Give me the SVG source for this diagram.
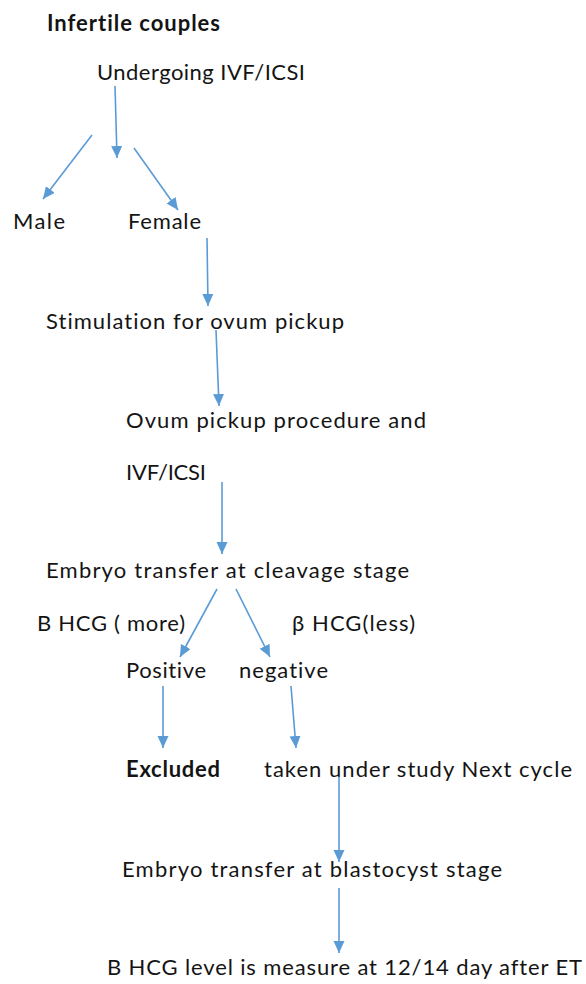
<svg xmlns="http://www.w3.org/2000/svg" width="586" height="984" viewBox="0 0 586 984">
<style>
text{font-family:Lato,"Open Sans","Liberation Sans",sans-serif;font-size:22px;fill:#141414;font-variant-ligatures:none}
.b{font-weight:bold}
.c{stroke:#5b9bd5;stroke-width:1.6;fill:none;marker-end:url(#ah)}
</style>
<defs>
<marker id="ah" markerUnits="userSpaceOnUse" markerWidth="14" markerHeight="12" refX="12" refY="5.5" orient="auto">
<path d="M0,0 L12,5.5 L0,11 z" fill="#5b9bd5"/>
</marker>
</defs>
<rect width="586" height="984" fill="#fff"/>
<g id="connectors">
<line class="c" x1="115" y1="86" x2="117" y2="158"/>
<line class="c" x1="92" y1="135" x2="43" y2="199"/>
<line class="c" x1="134" y1="148" x2="178" y2="210"/>
<line class="c" x1="207" y1="238" x2="208" y2="306"/>
<line class="c" x1="216" y1="330" x2="219" y2="406"/>
<line class="c" x1="222" y1="482" x2="222" y2="554"/>
<line class="c" x1="217" y1="589" x2="180" y2="657"/>
<line class="c" x1="236" y1="589" x2="270" y2="657"/>
<line class="c" x1="163" y1="686" x2="163" y2="748"/>
<line class="c" x1="291" y1="686" x2="296" y2="748"/>
<line class="c" x1="339" y1="777" x2="339" y2="862"/>
<line class="c" x1="339" y1="888" x2="339" y2="953"/>
</g>
<g id="n-infertile"><text class="b" x="47" y="31" textLength="173">Infertile couples</text></g>
<g id="n-undergoing"><text x="97" y="80" textLength="208">Undergoing IVF/ICSI</text></g>
<g id="n-male"><text x="13" y="229" textLength="52">Male</text></g>
<g id="n-female"><text x="128" y="229" textLength="73">Female</text></g>
<g id="n-stimulation"><text x="46" y="329" textLength="298">Stimulation for ovum pickup</text></g>
<g id="n-ovum"><text x="126" y="428" textLength="300">Ovum pickup procedure and</text><text x="126" y="480" textLength="80">IVF/ICSI</text></g>
<g id="n-cleavage"><text x="46" y="578" textLength="363">Embryo transfer at cleavage stage</text></g>
<g id="n-bhcg-more"><text x="37" y="631" textLength="148">B HCG ( more)</text></g>
<g id="n-bhcg-less"><text x="292" y="631" textLength="123">β HCG(less)</text></g>
<g id="n-positive"><text x="126" y="678" textLength="80">Positive</text></g>
<g id="n-negative"><text x="239" y="678" textLength="89">negative</text></g>
<g id="n-excluded"><text class="b" x="126" y="777" textLength="94">Excluded</text></g>
<g id="n-taken"><text x="264" y="777" textLength="308">taken under study Next cycle</text></g>
<g id="n-blastocyst"><text x="122" y="877" textLength="380">Embryo transfer at blastocyst stage</text></g>
<g id="n-measure"><text x="107" y="975" textLength="475">B HCG level is measure at 12/14 day after ET</text></g>
</svg>
